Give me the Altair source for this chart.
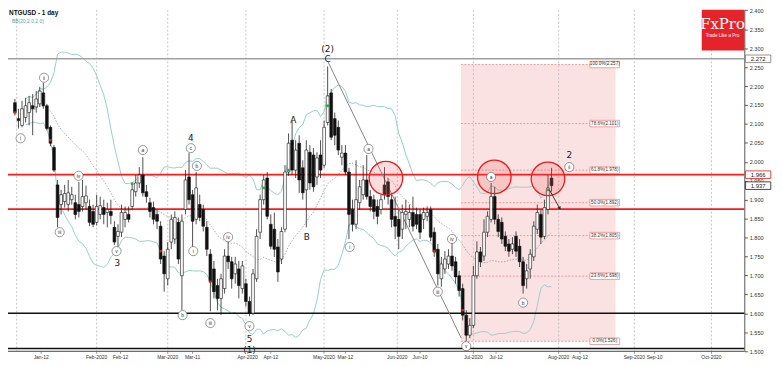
import altair as alt
import pandas as pd

# ---------------- data: NTGUSD daily candles (bar index 0 = 1 Jan 2020) ----------------
opens = [2.156, 2.114, 2.096, 2.117, 2.130, 2.148, 2.145, 2.153, 2.182, 2.148,
         2.091, 2.038, 1.939, 1.887, 1.895, 1.887, 1.900, 1.892, 1.887, 1.882,
         1.892, 1.882, 1.869, 1.840, 1.861, 1.879, 1.866, 1.869, 1.827, 1.803,
         1.814, 1.848, 1.861, 1.882, 1.921, 1.944, 1.965, 1.921, 1.892, 1.879,
         1.861, 1.830, 1.751, 1.691, 1.788, 1.796, 1.840, 1.699, 1.874, 1.960,
         1.913, 1.848, 1.887, 1.874, 1.827, 1.756, 1.717, 1.673, 1.639, 1.665,
         1.751, 1.736, 1.704, 1.717, 1.665, 1.678, 1.631, 1.600, 1.691, 1.814,
         1.900, 1.957, 1.835, 1.822, 1.775, 1.743, 1.822, 1.973, 2.057, 1.978,
         2.049, 1.984, 1.926, 2.025, 2.018, 1.960, 2.018, 1.991, 2.104, 2.182,
         2.114, 2.091, 2.012, 2.023, 1.973, 1.874, 1.835, 1.892, 1.913, 1.952,
         1.908, 1.900, 1.882, 1.874, 1.939, 1.947, 1.900, 1.856, 1.848, 1.822,
         1.861, 1.848, 1.866, 1.861, 1.861, 1.848, 1.856, 1.874, 1.814, 1.769,
         1.691, 1.717, 1.730, 1.751, 1.736, 1.699, 1.665, 1.595, 1.542, 1.568,
         1.699, 1.762, 1.751, 1.814, 1.848, 1.908, 1.848, 1.840, 1.803, 1.783,
         1.769, 1.803, 1.777, 1.736, 1.691, 1.717, 1.749, 1.822, 1.861, 1.803,
         1.874, 1.957]
highs = [2.166, 2.140, 2.161, 2.169, 2.174, 2.179, 2.187, 2.198, 2.208, 2.153,
         2.096, 2.044, 1.952, 1.926, 1.939, 1.952, 1.934, 1.913, 1.947, 1.952,
         1.937, 1.900, 1.887, 1.913, 1.908, 1.900, 1.892, 1.900, 1.843, 1.835,
         1.887, 1.882, 1.882, 1.939, 1.965, 1.986, 2.012, 1.939, 1.905, 1.895,
         1.874, 1.843, 1.764, 1.788, 1.861, 1.869, 1.853, 1.861, 1.978, 2.023,
         1.926, 1.973, 1.913, 1.887, 1.843, 1.769, 1.738, 1.691, 1.704, 1.769,
         1.788, 1.749, 1.749, 1.738, 1.738, 1.691, 1.644, 1.717, 1.822, 1.913,
         1.965, 1.973, 1.861, 1.866, 1.796, 1.827, 1.991, 2.075, 2.109, 2.057,
         2.070, 2.004, 2.057, 2.044, 2.036, 2.025, 2.057, 2.109, 2.252, 2.192,
         2.130, 2.109, 2.044, 2.044, 1.984, 1.900, 2.004, 1.952, 1.991, 2.018,
         1.926, 1.913, 1.900, 1.913, 1.986, 1.957, 1.913, 1.908, 1.874, 1.887,
         1.900, 1.887, 1.908, 1.879, 1.874, 1.879, 1.882, 1.882, 1.827, 1.783,
         1.749, 1.764, 1.769, 1.788, 1.749, 1.712, 1.678, 1.608, 1.587, 1.725,
         1.790, 1.775, 1.848, 1.869, 1.944, 1.934, 1.861, 1.853, 1.816, 1.796,
         1.801, 1.816, 1.796, 1.749, 1.730, 1.769, 1.843, 1.887, 1.874, 1.900,
         1.965, 1.984]
lows = [2.122, 2.088, 2.091, 2.104, 2.096, 2.070, 2.130, 2.145, 2.140, 2.083,
        2.041, 1.973, 1.827, 1.861, 1.879, 1.869, 1.887, 1.848, 1.853, 1.869,
        1.874, 1.830, 1.827, 1.832, 1.848, 1.835, 1.827, 1.835, 1.780, 1.775,
        1.801, 1.827, 1.840, 1.874, 1.908, 1.931, 1.908, 1.892, 1.853, 1.835,
        1.822, 1.730, 1.657, 1.673, 1.769, 1.783, 1.730, 1.608, 1.861, 1.887,
        1.775, 1.835, 1.843, 1.816, 1.751, 1.605, 1.639, 1.608, 1.595, 1.652,
        1.717, 1.665, 1.678, 1.639, 1.652, 1.618, 1.592, 1.595, 1.683, 1.796,
        1.887, 1.848, 1.769, 1.749, 1.683, 1.730, 1.814, 1.963, 1.965, 1.957,
        1.918, 1.900, 1.827, 1.926, 1.921, 1.939, 1.957, 1.984, 2.096, 2.057,
        2.044, 2.018, 1.991, 1.965, 1.796, 1.816, 1.822, 1.874, 1.900, 1.900,
        1.869, 1.848, 1.835, 1.861, 1.900, 1.887, 1.827, 1.796, 1.769, 1.796,
        1.822, 1.827, 1.816, 1.822, 1.796, 1.822, 1.843, 1.790, 1.749, 1.673,
        1.670, 1.704, 1.717, 1.712, 1.678, 1.644, 1.581, 1.527, 1.534, 1.561,
        1.691, 1.722, 1.738, 1.801, 1.840, 1.835, 1.801, 1.783, 1.764, 1.749,
        1.756, 1.749, 1.722, 1.652, 1.665, 1.691, 1.738, 1.809, 1.783, 1.796,
        1.861, 1.921]
closes = [2.130, 2.109, 2.140, 2.148, 2.156, 2.140, 2.166, 2.187, 2.148, 2.088,
          2.049, 1.978, 1.853, 1.913, 1.916, 1.918, 1.913, 1.861, 1.869, 1.908,
          1.910, 1.840, 1.835, 1.882, 1.884, 1.861, 1.874, 1.858, 1.788, 1.816,
          1.866, 1.866, 1.848, 1.926, 1.944, 1.965, 1.918, 1.908, 1.869, 1.848,
          1.843, 1.743, 1.704, 1.769, 1.848, 1.853, 1.743, 1.843, 1.952, 1.900,
          1.843, 1.931, 1.853, 1.830, 1.769, 1.683, 1.657, 1.639, 1.691, 1.751,
          1.736, 1.691, 1.730, 1.673, 1.725, 1.631, 1.600, 1.704, 1.803, 1.900,
          1.952, 1.856, 1.777, 1.769, 1.709, 1.816, 1.973, 2.049, 1.978, 2.031,
          1.952, 1.918, 2.031, 1.944, 1.934, 2.010, 1.978, 2.091, 2.174, 2.065,
          2.070, 2.031, 2.023, 1.973, 1.861, 1.835, 1.900, 1.934, 1.952, 1.908,
          1.882, 1.869, 1.856, 1.900, 1.913, 1.908, 1.848, 1.830, 1.803, 1.866,
          1.869, 1.866, 1.830, 1.835, 1.814, 1.866, 1.866, 1.801, 1.762, 1.704,
          1.730, 1.743, 1.751, 1.725, 1.696, 1.660, 1.595, 1.542, 1.568, 1.699,
          1.762, 1.736, 1.814, 1.856, 1.908, 1.848, 1.816, 1.796, 1.777, 1.764,
          1.783, 1.764, 1.736, 1.673, 1.712, 1.756, 1.830, 1.866, 1.801, 1.879,
          1.931, 1.937]

# horizontal levels
red_levels = [1.966, 1.875]
gray_levels = [2.272]
black_levels = [1.600, 1.507]

# fibonacci retracement
fib_pct = ["100.0%", "78.6%", "61.8%", "50.0%", "38.2%", "23.6%", "0.0%"]
fib_price = [2.257, 2.101, 1.978, 1.892, 1.805, 1.698, 1.526]
fib_span = [125.5, 169.0]

# highlighted zones (red circles)
circle_i = [104.4, 134.9, 150.0]
circle_p = [1.957, 1.960, 1.955]

# trend line from (2)/C top to the v low
trend_i = [88.0, 125.6]
trend_p = [2.266, 1.534]

# arrow
arrow_i = [150.4, 153.3]
arrow_p = [1.926, 1.877]

# wave labels (circled)
circ_text = ["i", "ii", "iii", "iv", "v", "a", "b", "c", "b", "i", "iii", "iv", "v",
             "i", "a", "iii", "iv", "v", "a", "b", "ii"]
circ_i = [1.6, 8.2, 12.6, 17.9, 28.6, 36.0, 47.2, 49.5, 51.2, 50.2, 55.0, 60.0, 66.0,
          94.2, 99.5, 119.0, 123.0, 127.0, 134.0, 143.0, 156.0]
circ_p = [2.062, 2.222, 1.814, 1.963, 1.764, 2.031, 1.595, 2.036, 1.989, 1.764, 1.574,
          1.801, 1.566, 1.775, 2.034, 1.657, 1.796, 1.513, 1.960, 1.628, 1.986]

# wave labels (plain)
plain_text = ["3", "4", "5", "(1)", "A", "B", "(2)", "C", "2"]
plain_i = [28.8, 49.5, 66.0, 66.0, 78.3, 82.1, 88.0, 88.0, 156.0]
plain_p = [1.733, 2.064, 1.532, 1.503, 2.109, 1.801, 2.299, 2.271, 2.018]

# small signal marks
green_i = [33, 70, 77, 88, 150]
green_p = [1.942, 1.931, 1.978, 2.148, 1.926]
red_i = [0, 10, 41, 55, 118, 126]
red_p = [2.130, 2.057, 1.764, 1.683, 1.764, 1.608]

# axes
y_ticks = [1.50, 1.55, 1.60, 1.65, 1.70, 1.75, 1.80, 1.85, 1.90, 1.95,
           2.00, 2.05, 2.10, 2.15, 2.20, 2.25, 2.30, 2.35, 2.40]
month_grid = [0.5, 23, 43, 65, 87, 107.6, 129, 153, 174.3, 196]
tick_labels = ["Jan-12", "Feb-2020", "Feb-12", "Mar-2020", "Mar-11", "Apr-2020", "Apr-12",
               "May-2020", "Mar-12", "Jun-2020", "Jun-10", "Jul-2020", "Jul-12", "Aug-2020",
               "Aug-12", "Sep-2020", "Sep-10", "Oct-2020"]
tick_pos = [7.4, 23, 29.7, 43, 50, 65.5, 72, 87, 93, 107.6, 114, 129, 135.4, 153,
            159.0, 174.3, 180.0, 196]

# price boxes on the axis
box_text = ["2.272", "1.966", "1.937"]
box_price = [2.272, 1.966, 1.937]
box_color = ["#888888", "#e03030", "#333333"]

# ---------------- chart ----------------
W, H = 744, 345
FONT = "Liberation Sans"
xs = alt.Scale(domain=[-0.55, 203.85], nice=False, zero=False)
ys = alt.Scale(domain=[1.4995, 2.4013], nice=False, zero=False)

yaxis = alt.Axis(orient="right", values=y_ticks, format=".3f", grid=False,
                 labelFontSize=5.6, labelFont=FONT, labelColor="#333", tickSize=3,
                 tickColor="#555", domainColor="#555", title=None, labelPadding=2,
                 labelOverlap=False)


def X(f):
    return alt.X(f, type="quantitative", scale=xs, axis=None)


def Y(f):
    return alt.Y(f, type="quantitative", scale=ys, axis=yaxis)


cdf = pd.DataFrame({"i": list(range(len(opens))), "open": opens, "high": highs,
                    "low": lows, "close": closes})

one = pd.DataFrame({"k": [0]})

grid = alt.Chart(pd.DataFrame({"g": month_grid})).mark_rule(
    color="#b8b8b8", strokeDash=[2, 2], strokeWidth=0.8).encode(x=X("g"))

fib_rect = alt.Chart(pd.DataFrame({"a": [fib_span[0]], "b": [fib_span[1]],
                                   "t": [fib_price[0]], "u": [fib_price[-1]]})).mark_rect(
    color="#fbe2e2").encode(x=X("a"), x2="b", y=Y("t"), y2="u")

fdf = pd.DataFrame({"p": fib_price, "a": fib_span[0], "b": fib_span[1],
                    "lab": [f"{c}({v:.3f})" for c, v in zip(fib_pct, fib_price)]})
fib_lines = alt.Chart(fdf).mark_rule(color="#e88a8a", strokeDash=[2, 1.5],
                                     strokeWidth=0.8).encode(x=X("a"), x2="b", y=Y("p"))
fib_box = alt.Chart(fdf).mark_point(shape="M-1,-0.22H1V0.22H-1Z", size=900, fill="white",
                                    stroke="#e08080", strokeWidth=0.7, opacity=1).encode(
    x=alt.value(603), y=Y("p"))
fib_txt = alt.Chart(fdf).mark_text(fontSize=4.6, font=FONT, color="#333").encode(
    x=alt.value(603), y=Y("p"), text="lab:N")

bb = alt.Chart(cdf).transform_window(
    sma="mean(close)", sd="stdev(close)", frame=[-19, 0],
    sort=[alt.SortField("i")]).transform_calculate(
    upper="datum.sma + 2*datum.sd", lower="datum.sma - 2*datum.sd").transform_filter(
    "datum.i >= 3")
bb_up = bb.mark_line(color="#9ccccc", strokeWidth=1, clip=True).encode(x=X("i"), y=Y("upper"))
bb_lo = bb.mark_line(color="#9ccccc", strokeWidth=1, clip=True).encode(x=X("i"), y=Y("lower"))
bb_mid = bb.mark_line(color="#8a8a8a", strokeWidth=0.7, strokeDash=[1.5, 1.5],
                      clip=True).encode(x=X("i"), y=Y("sma"))

red_h = alt.Chart(pd.DataFrame({"p": red_levels})).mark_rule(
    color="#ff1a1a", strokeWidth=1.6).encode(y=Y("p"))
gray_h = alt.Chart(pd.DataFrame({"p": gray_levels})).mark_rule(
    color="#a0a0a0", strokeWidth=1.4).encode(y=Y("p"))
black_h = alt.Chart(pd.DataFrame({"p": black_levels})).mark_rule(
    color="#111", strokeWidth=1.4).encode(y=Y("p"))

trend = alt.Chart(pd.DataFrame({"i": trend_i, "p": trend_p})).mark_line(
    color="#777", strokeWidth=0.9).encode(x=X("i"), y=Y("p"))

wicks = alt.Chart(cdf).mark_rule(color="#222", strokeWidth=0.8, clip=True).encode(
    x=X("i"), y=Y("low"), y2="high")
bodies = alt.Chart(cdf).mark_bar(size=2.8, stroke="#111", strokeWidth=0.6, clip=True).encode(
    x=X("i"), y=Y("open"), y2="close",
    fill=alt.condition("datum.close >= datum.open", alt.value("white"), alt.value("#111")))

greens = alt.Chart(pd.DataFrame({"i": green_i, "p": green_p})).mark_point(
    shape="square", size=7, filled=True, color="#2fa84f", opacity=1).encode(x=X("i"), y=Y("p"))
reds = alt.Chart(pd.DataFrame({"i": red_i, "p": red_p})).mark_point(
    shape="square", size=6, filled=True, color="#d22", opacity=1).encode(x=X("i"), y=Y("p"))

circles = alt.Chart(pd.DataFrame({"i": circle_i, "p": circle_p})).mark_point(
    shape="circle", size=1150, fill="#f06060", fillOpacity=0.22, stroke="#e81c1c",
    strokeWidth=1.3, opacity=1).encode(x=X("i"), y=Y("p"))

trend_arrow = alt.Chart(pd.DataFrame({"i": arrow_i, "p": arrow_p})).mark_line(
    color="#222", strokeWidth=0.9).encode(x=X("i"), y=Y("p"))
arrow_head = alt.Chart(pd.DataFrame({"i": arrow_i[-1:], "p": arrow_p[-1:]})).mark_point(
    shape="triangle-up", size=14, angle=153, filled=True, color="#222", opacity=1).encode(
    x=X("i"), y=Y("p"))

cdl = pd.DataFrame({"t": circ_text, "i": circ_i, "p": circ_p})
circ_mark = alt.Chart(cdl).mark_point(shape="circle", size=85, fill="white", stroke="#555",
                                      strokeWidth=0.6, opacity=1).encode(x=X("i"), y=Y("p"))
circ_txt = alt.Chart(cdl).mark_text(fontSize=5, font=FONT, color="#333").encode(
    x=X("i"), y=Y("p"), text="t:N")
plain_txt = alt.Chart(pd.DataFrame({"t": plain_text, "i": plain_i, "p": plain_p})).mark_text(
    fontSize=9, font="DejaVu Sans", color="#222").encode(x=X("i"), y=Y("p"), text="t:N")

xdf = pd.DataFrame({"lab": tick_labels, "pos": tick_pos})
x_lab = alt.Chart(xdf).mark_text(fontSize=5, font=FONT, color="#333", baseline="middle").encode(
    x=X("pos"), y=alt.value(H + 6), text="lab:N")
x_tick = alt.Chart(xdf).mark_rule(color="#666", strokeWidth=0.7).encode(
    x=X("pos"), y=alt.value(H), y2=alt.value(H + 2.5))
bottom = alt.Chart(one).mark_rule(color="#444", strokeWidth=1).encode(
    x=alt.value(0), x2=alt.value(W), y=alt.value(H))

bdf = pd.DataFrame({"t": box_text, "p": box_price, "c": box_color})
box_bg = alt.Chart(bdf).mark_point(shape="M-1,-0.3H1V0.3H-1Z", size=650, fill="white",
                                   strokeWidth=0.9, opacity=1).encode(
    x=alt.value(W + 14), y=Y("p"), stroke=alt.Color("c:N", scale=None))
box_txt = alt.Chart(bdf).mark_text(fontSize=6, font=FONT, color="#222").encode(
    x=alt.value(W + 14), y=Y("p"), text="t:N")

logo_bg = alt.Chart(one).mark_rect(color="#e5232b").encode(
    x=alt.value(701), x2=alt.value(W), y=alt.value(0), y2=alt.value(41))
logo_t1 = alt.Chart(pd.DataFrame({"t": ["FxPro"]})).mark_text(
    fontSize=15, font="DejaVu Serif", color="white", baseline="middle").encode(
    x=alt.value(722), y=alt.value(14), text="t:N")
logo_t2 = alt.Chart(pd.DataFrame({"t": ["Trade Like a Pro"]})).mark_text(
    fontSize=4.6, font=FONT, color="white", baseline="middle").encode(
    x=alt.value(722), y=alt.value(26), text="t:N")

title1 = alt.Chart(pd.DataFrame({"t": ["NTGUSD - 1 day"]})).mark_text(
    fontSize=6.5, font=FONT, fontWeight="bold", color="#111", align="left", baseline="top").encode(
    x=alt.value(1), y=alt.value(0), text="t:N")
title2 = alt.Chart(pd.DataFrame({"t": ["BB(20,2.0,2.0)"]})).mark_text(
    fontSize=5, font=FONT, color="#5b9e9e", align="left", baseline="top").encode(
    x=alt.value(4), y=alt.value(9), text="t:N")

chart = alt.layer(
    fib_rect, grid, fib_lines, bb_up, bb_lo, bb_mid, gray_h, red_h, black_h, trend,
    wicks, bodies, greens, reds, circles, trend_arrow, arrow_head,
    circ_mark, circ_txt, plain_txt, fib_box, fib_txt, bottom, x_tick, x_lab,
    box_bg, box_txt, logo_bg, logo_t1, logo_t2, title1, title2
).properties(
    width=W, height=H,
    autosize=alt.AutoSizeParams(type="none"),
    padding={"left": 0, "top": 0, "right": 30, "bottom": 13},
).configure_view(strokeWidth=0)

chart.save("out.html", embed_options={"renderer": "svg", "actions": False})
